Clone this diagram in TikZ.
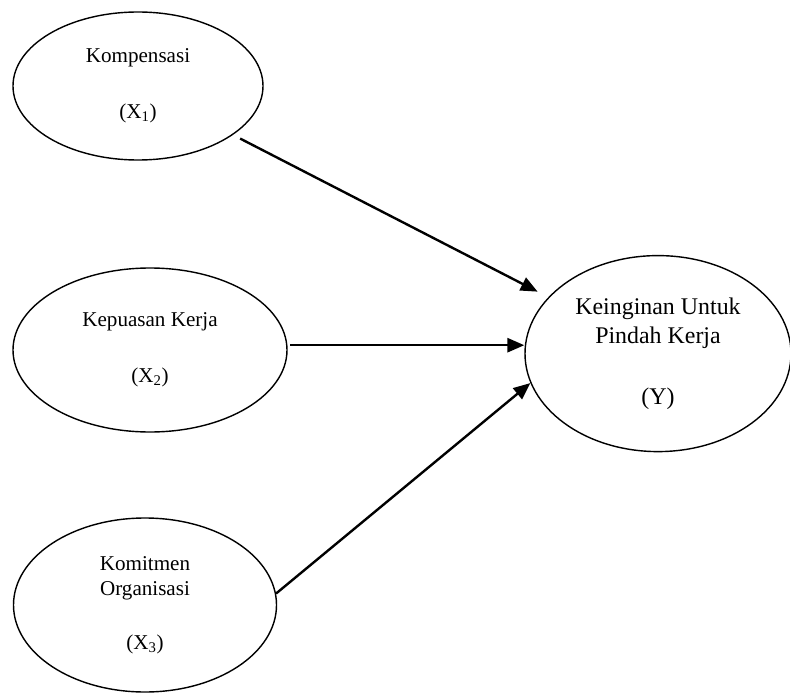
\documentclass[tikz,border=0pt]{standalone}
\usepackage{fontspec}
\setmainfont{Liberation Serif}
\usepackage{tikz}
\usetikzlibrary{shapes,arrows.meta,positioning}
\tikzstyle{construct}=[draw, ellipse, line width=1pt, inner sep=0pt, align=center, font=\fontsize{15}{18}\selectfont]
\tikzstyle{dependent}=[construct, font=\fontsize{17}{21}\selectfont]
\tikzstyle{effect}=[-{Triangle[length=12pt,width=10pt]}, line width=1.7pt]

\begin{document}
\begin{tikzpicture}
        \useasboundingbox (0,0) rectangle (19.75,-17.325);

        % Variabel bebas
        \node[construct, minimum width=6.25cm, minimum height=3.7cm] (X1) at (3.45,-2.15) {Kompensasi\\[22pt](X\textsubscript{1})};
        \node[construct, minimum width=6.85cm, minimum height=4.1cm] (X2) at (3.75,-8.75) {Kepuasan Kerja\\[22pt](X\textsubscript{2})};
        \node[construct, minimum width=6.575cm, minimum height=4.35cm] (X3) at (3.625,-15.125) {Komitmen\\Organisasi\\[20pt](X\textsubscript{3})};

        % Variabel terikat
        \node[dependent, minimum width=6.65cm, minimum height=4.9cm] (Y) at (16.45,-8.84) {Keinginan Untuk\\Pindah Kerja\\[22pt](Y)};

        % Pengaruh
        \draw[effect, shorten <=0.2cm, shorten >=0.3cm] (X1) -- (Y);
        \draw[effect, shorten <=0.07cm] (X2.2) -- (X2.2 -| Y.west);
        \draw[effect] (X3.5) -- (Y.193);
    \end{tikzpicture}
\end{document}
